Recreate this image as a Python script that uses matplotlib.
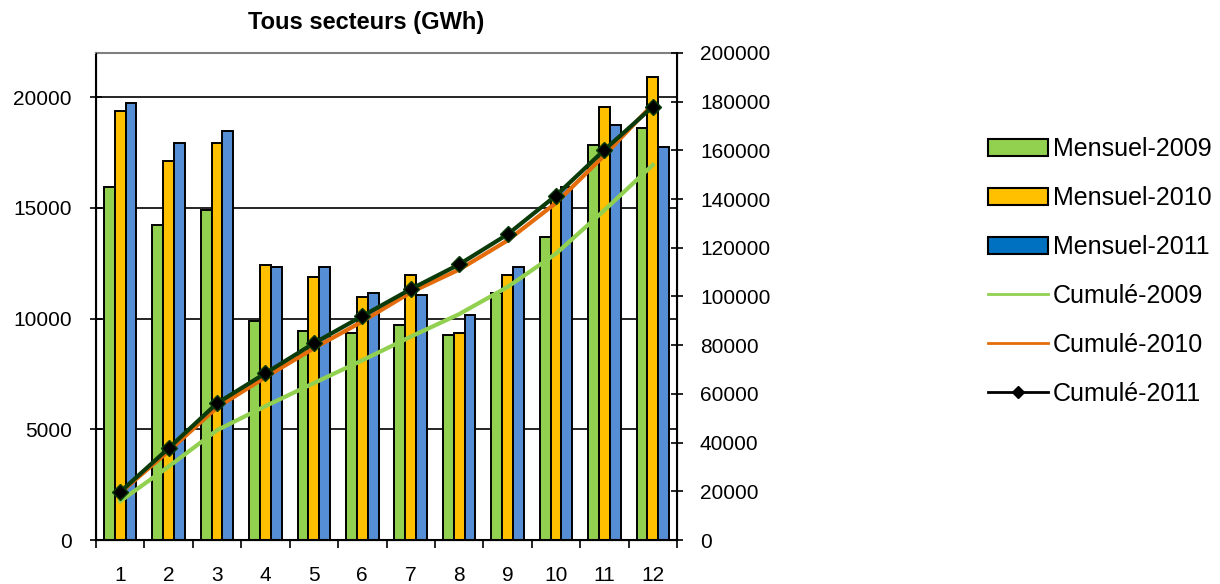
import matplotlib
matplotlib.use("Agg")
import matplotlib.pyplot as plt
import numpy as np
from matplotlib.patches import Patch
from matplotlib.lines import Line2D

plt.rcParams['font.family'] = ['Liberation Sans', 'DejaVu Sans']

months = ["1", "2", "3", "4", "5", "6", "7", "8", "9", "10", "11", "12"]
mensuel_2009 = [15950, 14220, 14930, 9890, 9450, 9345, 9710, 9255, 11170, 13670, 17830, 18630]
mensuel_2010 = [19380, 17125, 17940, 12415, 11890, 10985, 11965, 9345, 11965, 15400, 19560, 20920]
mensuel_2011 = [19740, 17940, 18480, 12325, 12325, 11150, 11060, 10160, 12325, 15950, 18740, 17760]
cumul_2009 = [15950, 30170, 45100, 54990, 64440, 73785, 83495, 92750, 103920, 117590, 135420, 154050]
cumul_2010 = [19380, 36505, 54445, 66860, 78750, 89735, 101700, 111045, 123010, 138410, 157970, 178890]
cumul_2011 = [19740, 37680, 56160, 68485, 80810, 91960, 103020, 113180, 125505, 141455, 160195, 177955]

labels = ["Mensuel-2009", "Mensuel-2010", "Mensuel-2011", "Cumulé-2009", "Cumulé-2010", "Cumulé-2011"]
bar_colors = ["#92D050", "#FFC000", "#558ED5"]
legend_bar_colors = ["#92D050", "#FFC000", "#0070C0"]
line_colors = ["#92D050", "#E46C0A", "#0B3B0B"]

W, H = 1220, 584
fig = plt.figure(figsize=(W / 100, H / 100), dpi=100)
ax = fig.add_axes([96 / W, 1 - 540 / H, (677 - 96) / W, (540 - 53) / H])
ax2 = ax.twinx()

x = np.arange(1, len(months) + 1)
bw = 0.224
for i, (vals, c) in enumerate(zip([mensuel_2009, mensuel_2010, mensuel_2011], bar_colors)):
    ax.bar(x + (i - 1) * bw, vals, width=bw, color=c, edgecolor="black", linewidth=1.4, zorder=2)

ax.set_xlim(0.5, 12.5)
ax.set_ylim(0, 22000)
ax.set_yticks([0, 5000, 10000, 15000, 20000])
ax.set_axisbelow(True)
ax.yaxis.grid(True, color="black", linewidth=1.2)
ax.tick_params(axis="y", direction="inout", length=9, width=1.2, labelsize=15, pad=13)

ax.set_xticks(np.arange(0.5, 13, 1))
ax.set_xticklabels([])
ax.set_xticks(x, minor=True)
ax.set_xticklabels(months, minor=True)
ax.tick_params(axis="x", which="major", direction="out", length=6, width=1.2)
ax.tick_params(axis="x", which="minor", length=0, labelsize=15, pad=19)

for s in ["left", "bottom"]:
    ax.spines[s].set_linewidth(1.5)
ax.spines["top"].set_color("#808080")
ax.spines["top"].set_linewidth(1.5)
ax2.spines["top"].set_visible(False)
ax2.spines["right"].set_linewidth(1.5)

ax2.plot(x, cumul_2009, color=line_colors[0], lw=3, zorder=3)
ax2.plot(x, cumul_2010, color=line_colors[1], lw=3, zorder=4)
ax2.plot(x, cumul_2011, color=line_colors[2], lw=3, marker="D", markersize=8,
         markerfacecolor="black", markeredgecolor="#0B3B0B", zorder=5)
ax2.set_ylim(0, 200000)
ax2.set_yticks(np.arange(0, 200001, 20000))
ax2.tick_params(axis="y", direction="inout", length=9, width=1.2, labelsize=15, pad=12)

fig.text(366 / W, 1 - 22 / H, "Tous secteurs (GWh)", ha="center", va="center",
         fontsize=17, fontweight="bold")

handles = [Patch(facecolor=c, edgecolor="black", linewidth=1.5) for c in legend_bar_colors]
handles += [Line2D([], [], color=line_colors[0], lw=2),
            Line2D([], [], color=line_colors[1], lw=2),
            Line2D([], [], color="black", lw=2, marker="D", markersize=6, markerfacecolor="black")]
fig.legend(handles, labels, loc="center left", bbox_to_anchor=(988 / W, 1 - 271.5 / H),
           frameon=False, fontsize=18, handlelength=2.4, handletextpad=0.2,
           labelspacing=1.0, borderpad=0, borderaxespad=0)

fig.savefig("out.png", dpi=100)
